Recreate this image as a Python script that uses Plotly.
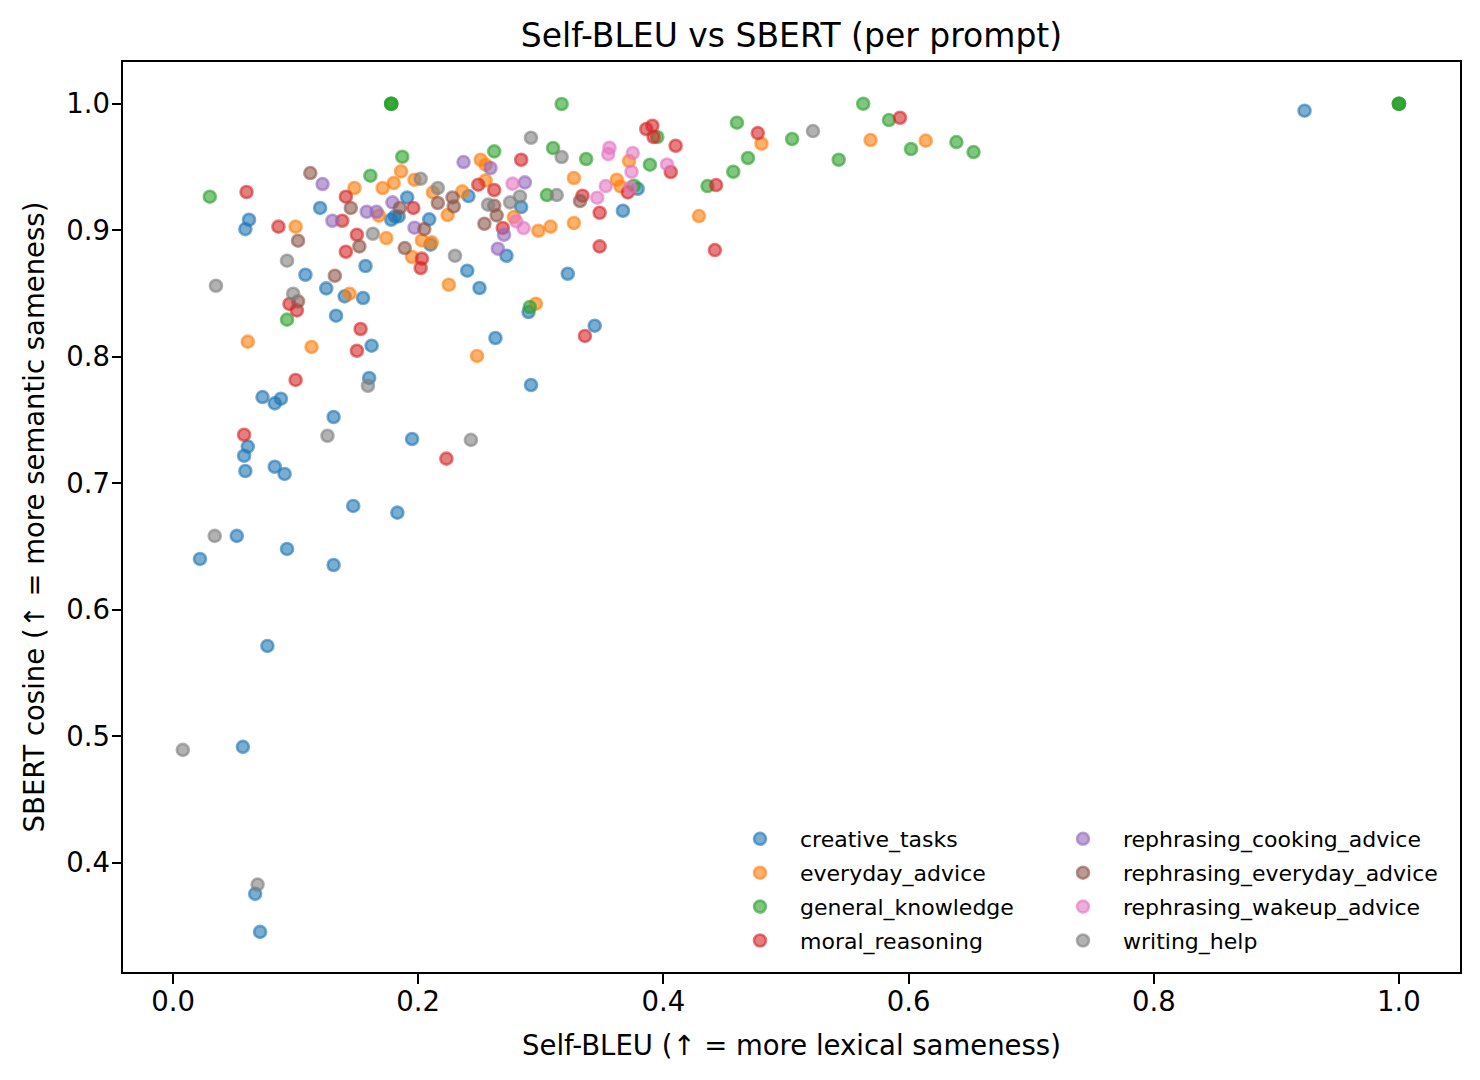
import plotly.graph_objects as go

# ---------------- data ----------------
categories = [
    "creative_tasks", "everyday_advice", "general_knowledge", "moral_reasoning",
    "rephrasing_cooking_advice", "rephrasing_everyday_advice",
    "rephrasing_wakeup_advice", "writing_help",
]

creative_tasks_x = [0.923, 0.120, 0.191, 0.178, 0.181, 0.184, 0.062, 0.059, 0.209, 0.210,
                    0.241, 0.284, 0.272, 0.240, 0.322, 0.367, 0.379, 0.157, 0.108, 0.125,
                    0.140, 0.155, 0.133, 0.162, 0.160, 0.073, 0.088, 0.083, 0.131, 0.195,
                    0.061, 0.058, 0.059, 0.083, 0.091, 0.147, 0.183, 0.052, 0.022, 0.093,
                    0.131, 0.077, 0.057, 0.067, 0.071, 0.250, 0.290, 0.344, 0.263, 0.292]
creative_tasks_y = [0.9945, 0.9176, 0.9259, 0.9083, 0.9109, 0.9109, 0.9083, 0.9009, 0.9086, 0.8886,
                    0.9270, 0.9183, 0.8798, 0.8680, 0.8656, 0.9154, 0.9328, 0.8717, 0.8648, 0.8540,
                    0.8477, 0.8464, 0.8324, 0.8087, 0.7832, 0.7681, 0.7668, 0.7631, 0.7523, 0.7349,
                    0.7289, 0.7217, 0.7096, 0.7130, 0.7073, 0.6820, 0.6767, 0.6583, 0.6401, 0.6480,
                    0.6353, 0.5713, 0.4915, 0.3753, 0.3452, 0.8543, 0.8353, 0.8245, 0.8148, 0.7776]

everyday_advice_x = [0.186, 0.180, 0.171, 0.148, 0.197, 0.251, 0.255, 0.255, 0.212, 0.236,
                     0.168, 0.224, 0.203, 0.211, 0.174, 0.195, 0.100, 0.225, 0.144, 0.061,
                     0.113, 0.248, 0.296, 0.278, 0.298, 0.308, 0.327, 0.327, 0.362, 0.365,
                     0.372, 0.429, 0.480, 0.569, 0.614]
everyday_advice_y = [0.9465, 0.9373, 0.9334, 0.9334, 0.9399, 0.9557, 0.9518, 0.9394, 0.9299, 0.9307,
                     0.9115, 0.9120, 0.8919, 0.8904, 0.8938, 0.8788, 0.9028, 0.8569, 0.8498, 0.8119,
                     0.8077, 0.8006, 0.8419, 0.9104, 0.8996, 0.9028, 0.9057, 0.9413, 0.9399, 0.9346,
                     0.9547, 0.9112, 0.9684, 0.9713, 0.9708]

general_knowledge_x = [0.178, 0.178, 0.178, 1.000, 1.000, 1.000, 0.187, 0.161, 0.030, 0.093,
                       0.262, 0.310, 0.317, 0.337, 0.305, 0.291, 0.376, 0.389, 0.395, 0.436,
                       0.460, 0.469, 0.457, 0.505, 0.543, 0.563, 0.584, 0.602, 0.639, 0.653]
general_knowledge_y = [1.0000, 1.0000, 1.0000, 1.0000, 1.0000, 1.0000, 0.9581, 0.9431, 0.9265, 0.8293,
                       0.9623, 0.9650, 0.9998, 0.9563, 0.9278, 0.8393, 0.9352, 0.9518, 0.9737, 0.9349,
                       0.9850, 0.9571, 0.9462, 0.9721, 0.9557, 1.0000, 0.9871, 0.9642, 0.9697, 0.9618]

moral_reasoning_x = [0.060, 0.086, 0.141, 0.138, 0.150, 0.141, 0.196, 0.203, 0.202, 0.095,
                     0.101, 0.153, 0.150, 0.100, 0.058, 0.223, 0.249, 0.262, 0.284, 0.269,
                     0.334, 0.348, 0.348, 0.336, 0.371, 0.386, 0.391, 0.392, 0.410, 0.406,
                     0.443, 0.442, 0.477, 0.593]
moral_reasoning_y = [0.9302, 0.9028, 0.9265, 0.9075, 0.8964, 0.8830, 0.9176, 0.8775, 0.8701, 0.8417,
                     0.8366, 0.8219, 0.8047, 0.7816, 0.7383, 0.7194, 0.9360, 0.9318, 0.9557, 0.9018,
                     0.9273, 0.9138, 0.8872, 0.8164, 0.9299, 0.9800, 0.9826, 0.9737, 0.9668, 0.9460,
                     0.9357, 0.8843, 0.9768, 0.9889]

rephrasing_cooking_advice_x = [0.122, 0.130, 0.158, 0.166, 0.179, 0.197, 0.237, 0.259, 0.287, 0.270, 0.265]
rephrasing_cooking_advice_y = [0.9365, 0.9075, 0.9146, 0.9146, 0.9220, 0.9020, 0.9539, 0.9492, 0.9378, 0.8964, 0.8854]

rephrasing_everyday_advice_x = [0.112, 0.145, 0.185, 0.152, 0.102, 0.102, 0.132, 0.205, 0.189, 0.216,
                                0.228, 0.229, 0.262, 0.264, 0.254, 0.332]
rephrasing_everyday_advice_y = [0.9452, 0.9176, 0.9176, 0.8872, 0.8917, 0.8437, 0.8640, 0.9009, 0.8859, 0.9215,
                                0.9259, 0.9188, 0.9194, 0.9117, 0.9051, 0.9231]

rephrasing_wakeup_advice_x = [0.277, 0.280, 0.286, 0.346, 0.353, 0.356, 0.355, 0.375, 0.374, 0.373, 0.403]
rephrasing_wakeup_advice_y = [0.9368, 0.9070, 0.9017, 0.9257, 0.9349, 0.9652, 0.9602, 0.9610, 0.9462, 0.9336, 0.9520]

writing_help_x = [0.202, 0.216, 0.163, 0.093, 0.098, 0.035, 0.159, 0.126, 0.243, 0.230,
                  0.257, 0.275, 0.283, 0.292, 0.313, 0.317, 0.522, 0.034, 0.008, 0.069]
writing_help_y = [0.9407, 0.9334, 0.8972, 0.8759, 0.8498, 0.8561, 0.7770, 0.7375, 0.7342, 0.8798,
                  0.9202, 0.9220, 0.9267, 0.9731, 0.9278, 0.9579, 0.9784, 0.6583, 0.4891, 0.3826]

xs = [creative_tasks_x, everyday_advice_x, general_knowledge_x, moral_reasoning_x,
      rephrasing_cooking_advice_x, rephrasing_everyday_advice_x, rephrasing_wakeup_advice_x, writing_help_x]
ys = [creative_tasks_y, everyday_advice_y, general_knowledge_y, moral_reasoning_y,
      rephrasing_cooking_advice_y, rephrasing_everyday_advice_y, rephrasing_wakeup_advice_y, writing_help_y]

x_ticks = [0.0, 0.2, 0.4, 0.6, 0.8, 1.0]
y_ticks = [0.4, 0.5, 0.6, 0.7, 0.8, 0.9, 1.0]

# ---------------- style ----------------
colors_rgb = [(31, 119, 180), (255, 127, 14), (44, 160, 44), (214, 39, 40),
              (148, 103, 189), (140, 86, 75), (227, 119, 194), (127, 127, 127)]
ALPHA = 0.6
FONT = "DejaVu Sans"

fig = go.Figure()
for i, name in enumerate(categories):
    r, g, b = colors_rgb[i]
    rgba = f"rgba({r},{g},{b},{ALPHA})"
    fig.add_trace(go.Scatter(
        x=xs[i], y=ys[i], mode="markers", name=name,
        marker=dict(size=12, color=rgba, line=dict(color=rgba, width=2.6)),
        legend="legend" if i < 4 else "legend2",
        legendgroup=name,
    ))

W, H = 1480, 1080
L, R, T, B = 123, 20, 62, 108
axis_common = dict(
    showline=True, linecolor="black", linewidth=1.6, mirror=True,
    ticks="outside", ticklen=9.7, tickwidth=1.6, tickcolor="black",
    showgrid=False, zeroline=False,
    tickfont=dict(family=FONT, size=27.5, color="black"),
    tickformat=".1f",
)

legend_common = dict(
    font=dict(family=FONT, size=22, color="black"),
    bgcolor="rgba(0,0,0,0)", borderwidth=0,
    xanchor="left", yanchor="top", itemwidth=70,
    traceorder="grouped", tracegroupgap=2.3,
)

legend_top = (H - B - 818) / (H - T - B)

fig.update_layout(
    width=W, height=H,
    margin=dict(l=L, r=R, t=T, b=B),
    paper_bgcolor="white", plot_bgcolor="white",
    font=dict(family=FONT, color="black"),
    title=dict(text="Self-BLEU vs SBERT (per prompt)", x=0.5, xref="paper",
               y=1 - 35 / H, yref="container", yanchor="middle", xanchor="center",
               font=dict(family=FONT, size=33, color="black")),
    xaxis=dict(range=[-0.0408, 1.0498], tickvals=x_ticks, ticklabelstandoff=-6,
               title=dict(text="Self-BLEU (↑ = more lexical sameness)", standoff=20,
                          font=dict(family=FONT, size=27.5, color="black")),
               **axis_common),
    yaxis=dict(range=[0.3135, 1.0330], tickvals=y_ticks, ticklabelstandoff=-4,
               title=dict(text="SBERT cosine (↑ = more semantic sameness)", standoff=14,
                          font=dict(family=FONT, size=27.5, color="black")),
               **axis_common),
    legend=dict(x=(720 - L) / (W - L - R), y=legend_top, **legend_common),
    legend2=dict(x=(1043 - L) / (W - L - R), y=legend_top, **legend_common),
    showlegend=True,
)

fig.write_html("out.html", config={"displayModeBar": False},
               post_script="document.body.style.margin='0';")
